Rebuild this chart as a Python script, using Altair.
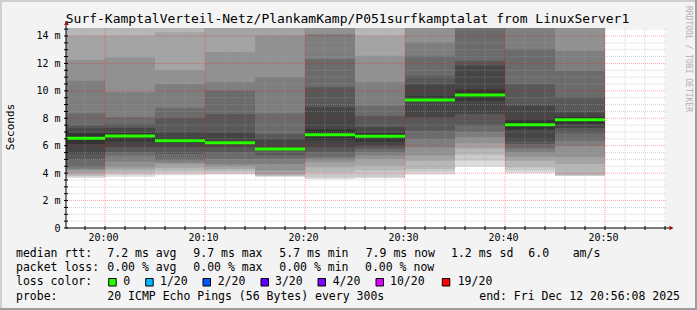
import altair as alt
import pandas as pd

# ---------------- data ----------------
title_text = "Surf-KamptalVerteil-Netz/PlankamKamp/P051surfkamptalat from LinuxServer1"
slot_start = ["19:55", "20:00", "20:05", "20:10", "20:15", "20:20",
              "20:25", "20:30", "20:35", "20:40", "20:45"]
slot_minutes = 5
# 20 sorted ping times (ms) per 5-minute slot
pings = [
    [3.65, 3.75, 3.81, 4.0, 4.19, 4.3, 4.43, 5.0, 5.44, 6.12, 6.9, 7.27, 7.51, 8.36, 10.74, 12.25, 14.02, 15.5, 17.0, 19.0],
    [3.74, 3.88, 4.05, 4.25, 4.43, 4.85, 5.28, 5.52, 5.9, 6.32, 6.9, 7.3, 7.58, 8.07, 9.89, 12.44, 14.02, 15.5, 17.0, 19.0],
    [3.85, 4.0, 4.18, 4.4, 4.67, 4.8, 4.96, 5.4, 5.9, 6.2, 6.55, 6.99, 8.0, 8.76, 10.5, 11.52, 14.27, 15.5, 17.0, 19.0],
    [3.91, 3.98, 4.15, 4.3, 4.5, 4.67, 5.03, 5.5, 5.9, 6.12, 6.37, 6.97, 8.31, 10.01, 10.62, 12.81, 15.0, 16.0, 17.0, 19.0],
    [3.74, 3.78, 3.81, 3.9, 4.19, 4.67, 5.03, 5.3, 5.64, 5.7, 5.85, 6.49, 6.85, 8.36, 10.99, 14.02, 15.5, 17.0, 18.0, 19.0],
    [3.55, 3.69, 4.05, 4.43, 4.79, 5.0, 5.15, 5.52, 5.88, 6.4, 7.2, 8.8, 10.26, 12.32, 14.14, 15.5, 16.5, 17.0, 18.0, 19.0],
    [3.62, 3.7, 4.19, 4.55, 5.03, 5.3, 5.52, 5.8, 6.0, 6.3, 6.9, 7.34, 8.19, 8.92, 10.62, 12.56, 14.02, 15.5, 17.0, 19.0],
    [3.91, 4.1, 4.3, 4.91, 5.28, 5.88, 6.49, 7.1, 8.07, 9.2, 9.6, 10.5, 11.1, 12.56, 13.54, 16.0, 17.0, 18.0, 19.0, 20.0],
    [4.47, 4.9, 5.35, 5.8, 6.17, 6.61, 7.0, 7.46, 8.31, 9.3, 10.1, 11.84, 12.2, 14.8, 15.5, 16.5, 17.0, 18.0, 19.0, 20.0],
    [3.99, 4.2, 4.43, 4.91, 5.2, 5.52, 5.8, 6.12, 6.37, 7.2, 7.85, 8.92, 10.5, 13.05, 15.5, 16.5, 17.0, 18.0, 19.0, 20.0],
    [3.79, 3.82, 3.85, 4.67, 5.15, 6.0, 6.37, 6.9, 7.3, 7.6, 8.1, 8.43, 9.53, 11.47, 12.93, 15.5, 16.5, 17.0, 18.0, 19.0],
]
median_rtt = [6.54, 6.70, 6.37, 6.22, 5.76, 6.80, 6.69, 9.33, 9.70, 7.53, 7.90]
x_tick_labels = ["20:00", "20:10", "20:20", "20:30", "20:40", "20:50"]
y_ticks_ms = [0, 2, 4, 6, 8, 10, 12, 14]
window_min = [-3.9, 56.1]          # minutes relative to 20:00
y_max_ms = 14.583

rtt_stats = ["7.2 ms avg", "9.7 ms max", "5.7 ms min", "7.9 ms now", "1.2 ms sd", "6.0", "am/s"]
loss_stats = ["0.00 % avg", "0.00 % max", "0.00 % min", "0.00 % now"]
loss_labels = ["0", "1/20", "2/20", "3/20", "4/20", "10/20", "19/20"]
loss_colors = ["#26ff00", "#00b8ff", "#0059ff", "#5e00ff", "#7e00ff", "#dd00ff", "#ff0000"]
row_labels = ["median rtt:", "packet loss:", "loss color:", "probe:"]
probe_text = "20 ICMP Echo Pings (56 Bytes) every 300s"
end_text = "end: Fri Dec 12 20:56:08 2025"
side_text = "RRDTOOL / TOBI OETIKER"
y_title = "Seconds"

# ---------------- layout (pixels) ----------------
W, H = 600, 200
PL, PT = 66, 28
FONT = "DejaVu Sans Mono"
rtt_x = [107.3, 193.3, 279.3, 365.7, 451, 528.3, 572.7]
loss_x = [107.3, 193.3, 279.3, 365.0]
box_x = [108.7, 145.7, 203, 261, 318, 376, 442.3]
box_label_x = [123.3, 160, 217.7, 275, 332.7, 390, 457.7]
row_y = [254.3, 268.3, 282.3, 296.7]


def to_min(s):
    h, m = s.split(":")[:2]
    return (int(h) - 20) * 60 + int(m)


XS = alt.Scale(domain=window_min, nice=False, zero=False)
YS = alt.Scale(domain=[0, y_max_ms], nice=False, zero=False)

# smoke bands (smokeping style: outer pair light, inner pair dark)
rows = []
for s, p in zip(slot_start, pings):
    x0 = to_min(s)
    for k in range(10):
        g = int(190 / 10 * (10 - (k + 1))) + 50
        rows.append({"x0": x0, "x1": x0 + slot_minutes, "lo": p[k], "hi": p[19 - k],
                     "shade": "#%02x%02x%02x" % (g, g, g)})
smoke = pd.DataFrame(rows)

med = pd.DataFrame({"x0": [to_min(s) for s in slot_start],
                    "x1": [to_min(s) + slot_minutes for s in slot_start],
                    "m": median_rtt})

x_axis = alt.Axis(values=[to_min(t) for t in x_tick_labels],
                  labelExpr="'20:' + (datum.value < 10 ? '0' : '') + datum.value",
                  domain=False, ticks=False, tickSize=0, grid=False, title=None,
                  labelFont=FONT, labelFontSize=10, labelColor="#000",
                  labelBaseline="middle", labelPadding=9, labelOffset=-2)
y_axis = alt.Axis(values=y_ticks_ms,
                  labelExpr="datum.value == 0 ? '0\u00a0\u00a0' : datum.value + ' m'",
                  domain=False, ticks=False, tickSize=0, grid=False, title=None,
                  labelFont=FONT, labelFontSize=10, labelColor="#000",
                  labelAlign="right", labelBaseline="middle", labelPadding=6)


def X(field):
    return alt.X(field, scale=XS, axis=x_axis)


def Y(field):
    return alt.Y(field, scale=YS, axis=y_axis)


smoke_layer = alt.Chart(smoke).mark_rect(clip=True).encode(
    x=X("x0:Q"), x2="x1:Q", y=Y("lo:Q"), y2="hi:Q",
    color=alt.Color("shade:N", scale=None))

# grid
minor_x = [v for v in range(-2, 57, 2) if v % 10 != 0]
major_x = [to_min(t) for t in x_tick_labels]
minor_y = [v / 2 for v in range(1, 30) if v % 4 != 0]
major_y = [v for v in y_ticks_ms if v > 0]


def vgrid(vals, color, op):
    return alt.Chart(pd.DataFrame({"t": vals})).mark_rule(
        strokeDash=[1, 1], color=color, opacity=op, strokeWidth=1).encode(x=X("t:Q"))


def hgrid(vals, color, op):
    return alt.Chart(pd.DataFrame({"v": vals})).mark_rule(
        strokeDash=[1, 1], color=color, opacity=op, strokeWidth=1).encode(y=Y("v:Q"))


grid = [vgrid(minor_x, "#a0a0a0", 0.45), hgrid(minor_y, "#a0a0a0", 0.45),
        vgrid(major_x, "#ff0000", 0.35), hgrid(major_y, "#ff0000", 0.35)]

median_layer = alt.Chart(med).mark_rule(clip=True, strokeWidth=3, color="#26ff00").encode(
    x=X("x0:Q"), x2="x1:Q", y=Y("m:Q"))

# ticks on axes
yt = alt.Chart(pd.DataFrame({"v": [v / 2 for v in range(0, 30)]})).mark_rule(
    color="#000", strokeWidth=1).encode(y=Y("v:Q"), x=alt.value(-2), x2=alt.value(2))
xt = alt.Chart(pd.DataFrame({"t": list(range(-2, 57, 2))})).mark_rule(
    color="#000", strokeWidth=1).encode(x=X("t:Q"), y=alt.value(198), y2=alt.value(202))

dummy = pd.DataFrame({"a": [0]})


def rule(x1, y1, x2, y2, color, w):
    return alt.Chart(dummy).mark_rule(color=color, strokeWidth=w).encode(
        x=alt.value(x1 - PL), x2=alt.value(x2 - PL), y=alt.value(y1 - PT), y2=alt.value(y2 - PT))


def txt(s, x, y, size=11.5, align="left", color="#000", angle=0):
    return alt.Chart(dummy).mark_text(text=s, font=FONT, fontSize=size, align=align,
                                      baseline="middle", color=color, angle=angle).encode(
        x=alt.value(x - PL), y=alt.value(y - PT))


axes = [rule(66, 228, 66, 21, "#000", 1), rule(66, 228, 670, 228, "#000", 1)]
arrows = [
    alt.Chart(dummy).mark_point(shape="triangle-up", filled=True, size=22, color="#a01010", opacity=1).encode(
        x=alt.value(0.5), y=alt.value(-5)),
    alt.Chart(dummy).mark_point(shape="triangle-right", filled=True, size=22, color="#a01010", opacity=1).encode(
        x=alt.value(605.5), y=alt.value(200)),
]
border = [rule(0, 1, 697, 1, "#cfcfcf", 2), rule(1, 0, 1, 310, "#cfcfcf", 2),
          rule(0, 309, 697, 309, "#9e9e9e", 2), rule(696, 0, 696, 310, "#9e9e9e", 2)]

texts = [txt(title_text, 347.5, 19, size=13, align="center"),
         txt(side_text, 687.7, 59, size=8, align="center", color="#b0b0b0", angle=90),
         txt(y_title, 11, 127, size=11, align="center", angle=270)]
for lab, yy in zip(row_labels, row_y):
    texts.append(txt(lab, 16, yy))
for s, xx in zip(rtt_stats, rtt_x):
    texts.append(txt(s, xx, row_y[0]))
for s, xx in zip(loss_stats, loss_x):
    texts.append(txt(s, xx, row_y[1]))
for lab, xx in zip(loss_labels, box_label_x):
    texts.append(txt(lab, xx, row_y[2]))
texts.append(txt(probe_text, 107.3, row_y[3]))
texts.append(txt(end_text, 680, row_y[3], align="right"))

boxes = []
for col, bx in zip(loss_colors, box_x):
    boxes.append(alt.Chart(dummy).mark_rect(fill=col, stroke="#000", strokeWidth=1).encode(
        x=alt.value(bx - PL), x2=alt.value(bx + 7.5 - PL),
        y=alt.value(278.5 - PT), y2=alt.value(286 - PT)))

chart = alt.layer(smoke_layer, *grid, median_layer, yt, xt, *axes, *arrows,
                  *border, *texts, *boxes).properties(
    width=W, height=H,
    padding={"left": PL, "top": PT, "right": 697 - PL - W, "bottom": 310 - PT - H},
    autosize=alt.AutoSizeParams(type="none"),
    background="#f3f3f3",
).configure_view(fill="white", stroke=None)

chart.save("out.html", embed_options={"renderer": "svg", "actions": False})
